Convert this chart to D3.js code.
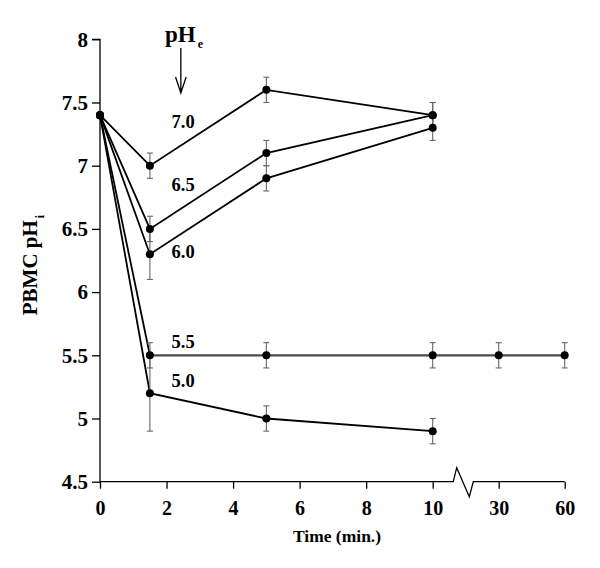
<!DOCTYPE html>
<html><head><meta charset="utf-8">
<script src="https://cdn.jsdelivr.net/npm/d3@7"></script>
<style>body{margin:0;background:#fff}svg{display:block}</style>
</head><body>
<svg id="c" width="600" height="568"></svg>
<script>
const times = [0, 1.5, 5, 10, 30, 60];
const seriesNames = ["7.0", "6.5", "6.0", "5.5", "5.0"];
const ph70 = [7.4, 7.0, 7.6, 7.4];
const err70 = [0, 0.1, 0.1, 0.1];
const ph65 = [7.4, 6.5, 7.1, 7.4];
const err65 = [0, 0.1, 0.1, 0.1];
const ph60 = [7.4, 6.3, 6.9, 7.3];
const err60 = [0, 0.2, 0.1, 0.1];
const ph55 = [7.4, 5.5, 5.5, 5.5, 5.5, 5.5];
const err55 = [0, 0.1, 0.1, 0.1, 0.1, 0.1];
const ph50 = [7.4, 5.2, 5.0, 4.9];
const err50 = [0, 0.3, 0.1, 0.1];
const xTicks = [0, 2, 4, 6, 8, 10, 30, 60];
const yTicks = [4.5, 5, 5.5, 6, 6.5, 7, 7.5, 8];
const yTickLabels = ["4.5", "5", "5.5", "6", "6.5", "7", "7.5", "8"];
// label anchor values (time, pH) for series labels
const labelPos = [[2.15, 7.3], [2.15, 6.8], [2.15, 6.27], [2.15, 5.56], [2.15, 5.25]];

const series = [
  {name: seriesNames[0], v: ph70, e: err70},
  {name: seriesNames[1], v: ph65, e: err65},
  {name: seriesNames[2], v: ph60, e: err60},
  {name: seriesNames[3], v: ph55, e: err55},
  {name: seriesNames[4], v: ph50, e: err50}
];

const svg = d3.select("#c");
const font = "'Liberation Serif','Times New Roman',serif";
const x = d3.scaleLinear().domain([0, 10, 30, 60]).range([100, 432.7, 498.7, 564.7]);
const y = d3.scaleLinear().domain([4.5, 8]).range([481.7, 39.3]);

// Y axis
const yAx = svg.append("g").attr("transform", `translate(${x(0)},0)`)
  .call(d3.axisLeft(y).tickValues(yTicks).tickSize(8).tickPadding(4)
    .tickFormat((d, i) => yTickLabels[i]));
yAx.select(".domain").attr("d", `M-8,${y(8)}H0V${y(4.5)}`).attr("stroke", "#000").attr("stroke-width", 1.3);
yAx.selectAll(".tick line").attr("stroke-width", 1.3);
yAx.selectAll("text").attr("font-family", font).attr("font-weight", "bold").attr("font-size", 21).attr("fill", "#000");

// X axis
const xAx = svg.append("g").attr("transform", `translate(0,${y(4.5)})`)
  .call(d3.axisBottom(x).tickValues(xTicks).tickSize(7).tickPadding(12).tickFormat(d3.format("d")));
xAx.select(".domain").remove();
xAx.selectAll(".tick line").attr("stroke-width", 1.3);
xAx.selectAll("text").attr("font-family", font).attr("font-weight", "bold").attr("font-size", 20).attr("fill", "#000");
const xb = x(10) + 20.6;
xAx.append("path")
  .attr("d", `M${x(0)},0H${xb}L${xb + 3.4},-14L${xb + 16},15L${xb + 20},0H${x(60)}`)
  .attr("fill", "none").attr("stroke", "#000").attr("stroke-width", 1.3);

// axis titles
svg.append("text").attr("x", 337).attr("y", 541.5).attr("text-anchor", "middle")
  .attr("font-family", font).attr("font-weight", "bold").attr("font-size", 17.5).text("Time (min.)");
const yl = svg.append("text").attr("transform", "translate(37,265) rotate(-90)").attr("text-anchor", "middle")
  .attr("font-family", font).attr("font-weight", "bold").attr("font-size", 21);
yl.append("tspan").text("PBMC pH");
yl.append("tspan").attr("font-size", 12).attr("dy", 7).attr("dx", 2).text("i");

// lines (5.5 series: steep drop in black, plateau in grey)
const line = d3.line().x(d => x(d[0])).y(d => y(d[1]));
series.forEach((s, k) => {
  const pts = s.v.map((v, i) => [times[i], v]);
  if (k === 3) {
    svg.append("path").datum(pts.slice(0, 2)).attr("d", line).attr("fill", "none")
      .attr("stroke", "#000").attr("stroke-width", 1.8);
    svg.append("path").datum(pts.slice(1)).attr("d", line).attr("fill", "none")
      .attr("stroke", "#4a4a4a").attr("stroke-width", 2.2);
  } else {
    svg.append("path").datum(pts).attr("d", line).attr("fill", "none")
      .attr("stroke", "#000").attr("stroke-width", 1.8);
  }
});

// error bars
series.forEach(s => {
  const g = svg.append("g").attr("stroke", "#666").attr("stroke-width", 1.1);
  s.v.forEach((v, i) => {
    if (!s.e[i]) return;
    const cx = x(times[i]);
    g.append("line").attr("x1", cx).attr("x2", cx).attr("y1", y(v - s.e[i])).attr("y2", y(v + s.e[i]));
    g.append("line").attr("x1", cx - 3).attr("x2", cx + 3).attr("y1", y(v - s.e[i])).attr("y2", y(v - s.e[i]));
    g.append("line").attr("x1", cx - 3).attr("x2", cx + 3).attr("y1", y(v + s.e[i])).attr("y2", y(v + s.e[i]));
  });
});

// dots
series.forEach(s => {
  svg.append("g").selectAll("circle").data(s.v).join("circle")
    .attr("cx", (d, i) => x(times[i])).attr("cy", d => y(d)).attr("r", 4).attr("fill", "#000");
});

// series labels
series.forEach((s, k) => {
  svg.append("text").attr("x", x(labelPos[k][0])).attr("y", y(labelPos[k][1]))
    .attr("font-family", font).attr("font-weight", "bold").attr("font-size", 18.5).text(s.name);
});

// pHe header with arrow
const ht = svg.append("text").attr("x", 165).attr("y", 42)
  .attr("font-family", font).attr("font-weight", "bold").attr("font-size", 23);
ht.append("tspan").text("pH");
ht.append("tspan").attr("font-size", 12).attr("dy", 6).attr("dx", 2).text("e");
const ax = x(2.43);
svg.append("path").attr("d", `M${ax},48V93M${ax - 5.3},77L${ax},93L${ax + 5.3},77`)
  .attr("fill", "none").attr("stroke", "#000").attr("stroke-width", 1.3);
</script>
</body></html>
